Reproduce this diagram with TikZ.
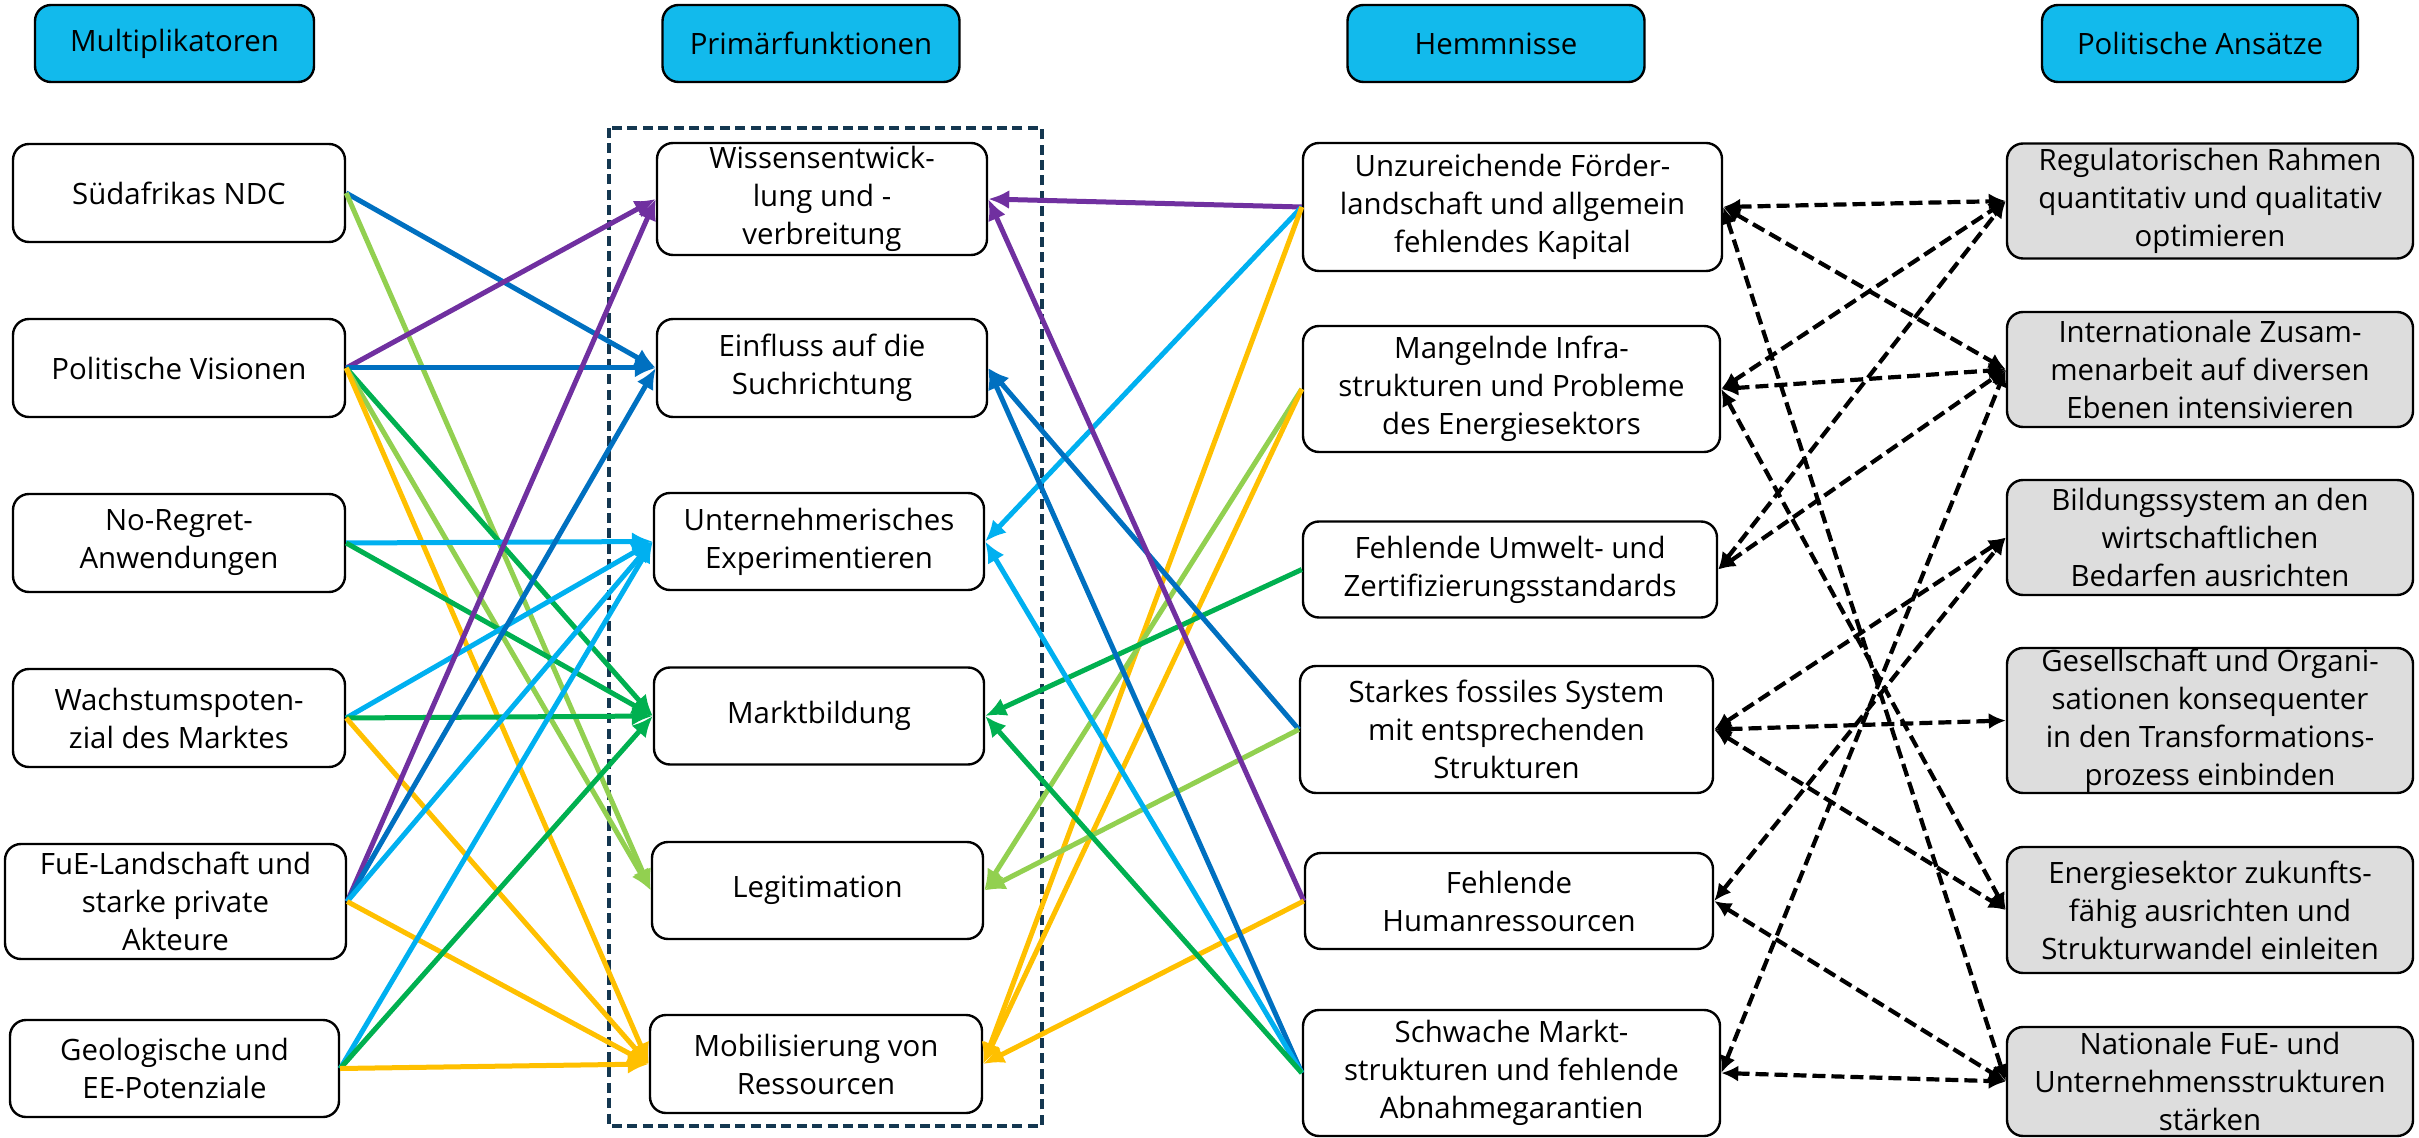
\documentclass[tikz,border=0pt]{standalone}
\usepackage{fontspec}
\setmainfont{Open Sans}
\usetikzlibrary{arrows.meta}
\definecolor{hdr}{RGB}{18,186,236}
\definecolor{cpurple}{RGB}{112,48,160}
\definecolor{cdblue}{RGB}{0,112,192}
\definecolor{clblue}{RGB}{0,176,240}
\definecolor{cgreen}{RGB}{0,176,80}
\definecolor{clgreen}{RGB}{146,208,80}
\definecolor{cyellow}{RGB}{255,192,0}
\definecolor{boxgray}{RGB}{221,221,221}
\definecolor{framecol}{RGB}{20,55,80}
\begin{document}
\begin{tikzpicture}[x=0.5pt,y=-0.5pt,
  base/.style={draw=black, line width=1.2pt, rounded corners=8pt, align=center,
    inner sep=0pt, font=\fontsize{14.7}{19}\selectfont},
  wbox/.style={base, fill=white},
  gbox/.style={base, fill=boxgray},
  hbox/.style={base, fill=hdr, minimum height=38.5pt},
  carrow/.style={draw=#1, line width=2.5pt, -{Latex[length=10.5pt,width=9.5pt]}},
  darrow/.style={draw=black, line width=2.1pt, dash pattern=on 6.5pt off 3pt,
    {Latex[length=8.5pt,width=8pt]}-{Latex[length=8.5pt,width=8pt]}},
  groupframe/.style={draw=framecol, line width=1.7pt, dash pattern=on 5pt off 2.7pt}
]
\useasboundingbox (0,0) rectangle (2419,1138);

% headers
\node[hbox, minimum width=139.5pt] (hd1) at (174.5,43.5) {Multiplikatoren};
\node[hbox, minimum width=148.5pt] (hd2) at (811,43.5) {Primärfunktionen};
\node[hbox, minimum width=148.5pt] (hd3) at (1496,43.5) {Hemmnisse};
\node[hbox, minimum width=158pt] (hd4) at (2200,43.5) {Politische Ansätze};

% group frame
\draw[groupframe] (609,128) rectangle (1042,1126);

% column 1
\node[wbox, minimum width=166pt, minimum height=49pt] (s1) at (179,193) {Südafrikas NDC};
\node[wbox, minimum width=166pt, minimum height=49pt] (s2) at (179,368) {Politische Visionen};
\node[wbox, minimum width=166pt, minimum height=49pt] (s3) at (179,543) {No-Regret-\\Anwendungen};
\node[wbox, minimum width=166pt, minimum height=49pt] (s4) at (179,718) {Wachstumspoten-\\zial des Marktes};
\node[wbox, minimum width=170.5pt, minimum height=57.5pt] (s5) at (175.5,901.5) {FuE-Landschaft und\\starke private\\Akteure};
\node[wbox, minimum width=164.5pt, minimum height=48.5pt] (s6) at (174.5,1068.5) {Geologische und\\EE-Potenziale};

% column 2
\node[wbox, minimum width=165pt, minimum height=56pt] (p1) at (822,199) {Wissensentwick-\\lung und -\\verbreitung};
\node[wbox, minimum width=165pt, minimum height=49pt] (p2) at (822,368) {Einfluss auf die\\Suchrichtung};
\node[wbox, minimum width=165pt, minimum height=48.5pt] (p3) at (819,541.5) {Unternehmerisches\\Experimentieren};
\node[wbox, minimum width=165pt, minimum height=48.5pt] (p4) at (819,716) {Marktbildung};
\node[wbox, minimum width=165.5pt, minimum height=48.5pt] (p5) at (817.5,890.5) {Legitimation};
\node[wbox, minimum width=166pt, minimum height=49pt] (p6) at (816,1064) {Mobilisierung von\\Ressourcen};

% column 3
\node[wbox, minimum width=209.5pt, minimum height=64pt] (h1) at (1512.5,207) {Unzureichende Förder-\\landschaft und allgemein\\fehlendes Kapital};
\node[wbox, minimum width=208.5pt, minimum height=63pt] (h2) at (1511.5,389) {Mangelnde Infra-\\strukturen und Probleme\\des Energiesektors};
\node[wbox, minimum width=207pt, minimum height=48pt] (h3) at (1510,569.5) {Fehlende Umwelt- und\\Zertifizierungsstandards};
\node[wbox, minimum width=206.5pt, minimum height=63.5pt] (h4) at (1506.5,729.5) {Starkes fossiles System\\mit entsprechenden\\Strukturen};
\node[wbox, minimum width=204pt, minimum height=48pt] (h5) at (1509,901) {Fehlende\\Humanressourcen};
\node[wbox, minimum width=208.5pt, minimum height=63pt] (h6) at (1511.5,1073) {Schwache Markt-\\strukturen und fehlende\\Abnahmegarantien};

% column 4
\node[gbox, minimum width=203pt, minimum height=57.5pt] (r1) at (2210,201) {Regulatorischen Rahmen\\quantitativ und qualitativ\\optimieren};
\node[gbox, minimum width=203pt, minimum height=57.5pt] (r2) at (2210,369.5) {Internationale Zusam-\\menarbeit auf diversen\\Ebenen intensivieren};
\node[gbox, minimum width=203pt, minimum height=57.5pt] (r3) at (2210,537.5) {Bildungssystem an den\\wirtschaftlichen\\Bedarfen ausrichten};
\node[gbox, minimum width=203pt, minimum height=72.5pt] (r4) at (2210,720.5) {Gesellschaft und Organi-\\sationen konsequenter\\in den Transformations-\\prozess einbinden};
\node[gbox, minimum width=203pt, minimum height=63pt] (r5) at (2210,910) {Energiesektor zukunfts-\\fähig ausrichten und\\Strukturwandel einleiten};
\node[gbox, minimum width=203pt, minimum height=54.5pt] (r6) at (2210,1081.5) {Nationale FuE- und\\Unternehmensstrukturen\\stärken};

% multiplicators -> primary functions
\draw[carrow=cdblue] (s1.east) -- (p2.west);
\draw[carrow=clgreen] (s1.east) -- (p5.west);
\draw[carrow=cpurple] (s2.east) -- (p1.west);
\draw[carrow=cdblue] (s2.east) -- (p2.west);
\draw[carrow=cgreen] (s2.east) -- (p4.west);
\draw[carrow=clgreen] (s2.east) -- (p5.west);
\draw[carrow=cyellow] (s2.east) -- (p6.west);
\draw[carrow=clblue] (s3.east) -- (p3.west);
\draw[carrow=cgreen] (s3.east) -- (p4.west);
\draw[carrow=clblue] (s4.east) -- (p3.west);
\draw[carrow=cgreen] (s4.east) -- (p4.west);
\draw[carrow=cyellow] (s4.east) -- (p6.west);
\draw[carrow=cpurple] (s5.east) -- (p1.west);
\draw[carrow=cdblue] (s5.east) -- (p2.west);
\draw[carrow=clblue] (s5.east) -- (p3.west);
\draw[carrow=cyellow] (s5.east) -- (p6.west);
\draw[carrow=clblue] (s6.east) -- (p3.west);
\draw[carrow=cgreen] (s6.east) -- (p4.west);
\draw[carrow=cyellow] (s6.east) -- (p6.west);

% obstacles -> primary functions
\draw[carrow=cpurple] (h1.west) -- (p1.east);
\draw[carrow=clblue] (h1.west) -- (p3.east);
\draw[carrow=cyellow] (h1.west) -- (p6.east);
\draw[carrow=clgreen] (h2.west) -- (p5.east);
\draw[carrow=cyellow] (h2.west) -- (p6.east);
\draw[carrow=cgreen] (h3.west) -- (p4.east);
\draw[carrow=cdblue] (h4.west) -- (p2.east);
\draw[carrow=clgreen] (h4.west) -- (p5.east);
\draw[carrow=cpurple] (h5.west) -- (p1.east);
\draw[carrow=cyellow] (h5.west) -- (p6.east);
\draw[carrow=cdblue] (h6.west) -- (p2.east);
\draw[carrow=clblue] (h6.west) -- (p3.east);
\draw[carrow=cgreen] (h6.west) -- (p4.east);

% obstacles <-> policy approaches
\draw[darrow] (h1.east) -- (r1.west);
\draw[darrow] (h1.east) -- (r2.west);
\draw[darrow] (h1.east) -- (r6.west);
\draw[darrow] (h2.east) -- (r1.west);
\draw[darrow] (h2.east) -- (r2.west);
\draw[darrow] (h2.east) -- (r5.west);
\draw[darrow] (h3.east) -- (r1.west);
\draw[darrow] (h3.east) -- (r2.west);
\draw[darrow] (h4.east) -- (r3.west);
\draw[darrow] (h4.east) -- (r4.west);
\draw[darrow] (h4.east) -- (r5.west);
\draw[darrow] (h5.east) -- (r3.west);
\draw[darrow] (h5.east) -- (r6.west);
\draw[darrow] (h6.east) -- (r2.west);
\draw[darrow] (h6.east) -- (r6.west);
\end{tikzpicture}
\end{document}
